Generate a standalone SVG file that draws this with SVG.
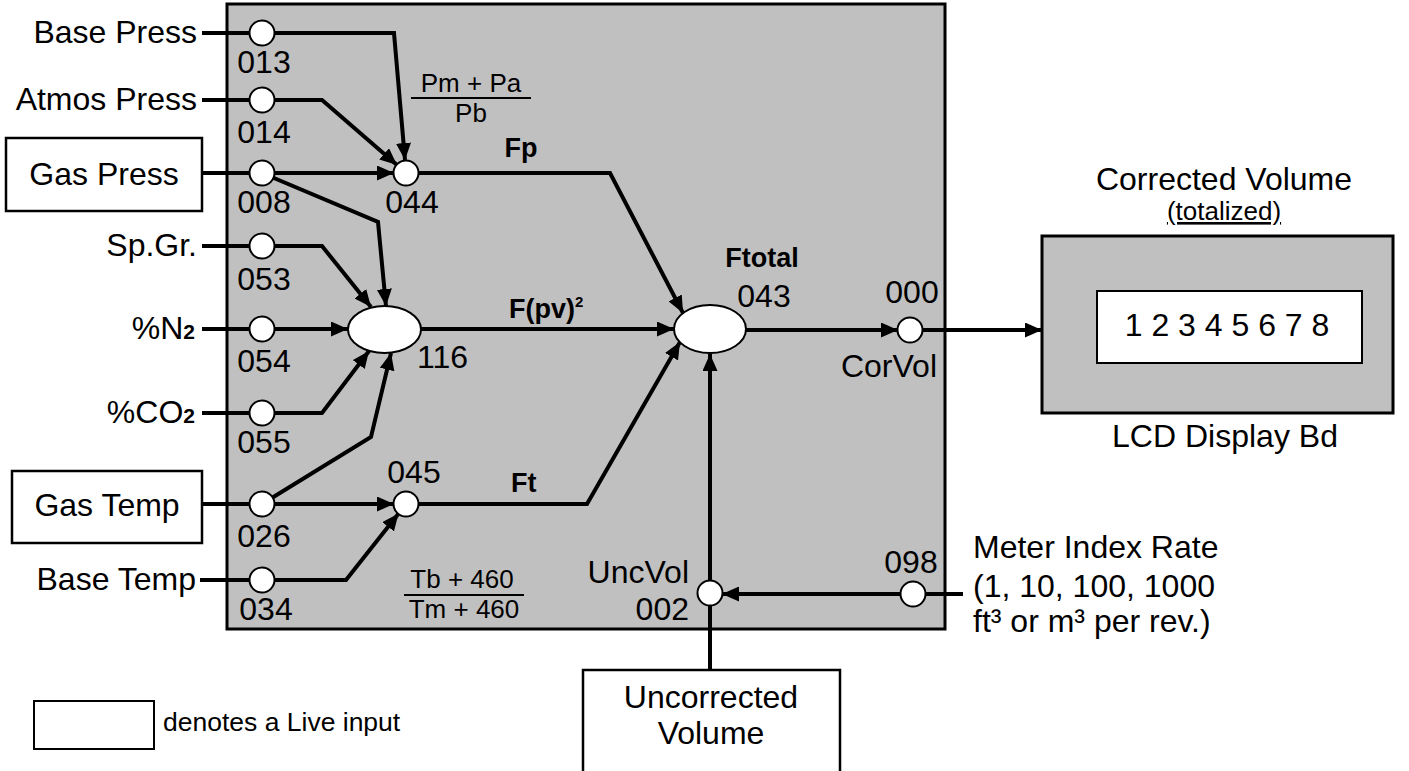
<svg xmlns="http://www.w3.org/2000/svg" width="1409" height="771" viewBox="0 0 1409 771">
<style>
text{font-family:"Liberation Sans",Arial,sans-serif;fill:#000}
.t{font-size:32px}
.b{font-size:27px;font-weight:bold}
.f{font-size:26px}
.s{font-size:26.5px}
.m{text-anchor:middle}
.e{text-anchor:end}
.c{fill:none;stroke:#000;stroke-width:4;stroke-linejoin:miter}
.a{marker-end:url(#ah)}
.pt{fill:#fff;stroke:#000;stroke-width:2}
.live{fill:#fff;stroke:#000;stroke-width:2.5}
.gray{fill:#c0c0c0;stroke:#000;stroke-width:3}
</style>
<defs>
<marker id="ah" markerUnits="userSpaceOnUse" markerWidth="17" markerHeight="15" refX="17" refY="7.5" orient="auto">
<path d="M0,0 L17,7.5 L0,15 Z" fill="#000"/>
</marker>
</defs>
<g id="main-box"><rect class="gray" x="227" y="4" width="718" height="625"/></g>
<g id="lcd-box">
<rect class="gray" x="1042" y="236" width="351" height="177"/>
<rect x="1097" y="291" width="265" height="72" fill="#fff" stroke="#000" stroke-width="2"/>
<text class="t m" x="1227" y="336">1 2 3 4 5 6 7 8</text>
<text class="t m" x="1225" y="447">LCD Display Bd</text>
<text class="t m" x="1224" y="190">Corrected Volume</text>
<text class="m" x="1224" y="220" font-size="26" text-decoration="underline">(totalized)</text>
</g>
<g id="connectors">
<path class="c a" d="M202,33 L394,33 L405,160"/>
<path class="c a" d="M202,100 L322,100 L397,165"/>
<path class="c a" d="M202,173 L394,173"/>
<path class="c a" d="M262,173 L378,222 L386,306"/>
<path class="c a" d="M202,246 L322,246 L371,307"/>
<path class="c a" d="M202,329 L348,329"/>
<path class="c a" d="M202,413 L322,413 L369,351"/>
<path class="c a" d="M262,504 L371,437 L391,353"/>
<path class="c a" d="M202,504 L394,504"/>
<path class="c a" d="M200,580 L346,580 L398.6,513.4"/>
<path class="c a" d="M406,173 L610,173 L683,313"/>
<path class="c a" d="M384,329 L674,329"/>
<path class="c a" d="M406,504 L587,504 L680,342"/>
<path class="c a" d="M710,330 L898,330"/>
<path class="c a" d="M910,330 L1042,330"/>
<path class="c a" d="M710,670 L710,354"/>
<path class="c a" d="M963,594 L722,594"/>
</g>
<g id="base-press"><text class="t e" x="197" y="43">Base Press</text><circle class="pt" cx="262" cy="33" r="12.5"/><text class="t m" x="264" y="73">013</text></g>
<g id="atmos-press"><text class="t e" x="197" y="110">Atmos Press</text><circle class="pt" cx="262" cy="100" r="12.5"/><text class="t m" x="264" y="143">014</text></g>
<g id="gas-press"><rect class="live" x="6" y="138" width="196" height="73"/><text class="t m" x="104" y="185">Gas Press</text><circle class="pt" cx="262" cy="173" r="12.5"/><text class="t m" x="264" y="213">008</text></g>
<g id="sp-gr"><text class="t e" x="197" y="256">Sp.Gr.</text><circle class="pt" cx="262" cy="246" r="12.5"/><text class="t m" x="264" y="290">053</text></g>
<g id="n2"><text class="t e" x="195" y="339">%N<tspan font-size="21" font-weight="bold">2</tspan></text><circle class="pt" cx="262" cy="329" r="12.5"/><text class="t m" x="264" y="372">054</text></g>
<g id="co2"><text class="t e" x="195" y="423">%CO<tspan font-size="21" font-weight="bold">2</tspan></text><circle class="pt" cx="262" cy="413" r="12.5"/><text class="t m" x="264" y="453">055</text></g>
<g id="gas-temp"><rect class="live" x="12" y="471" width="190" height="72"/><text class="t m" x="107" y="516">Gas Temp</text><circle class="pt" cx="262" cy="504" r="12.5"/><text class="t m" x="264" y="547">026</text></g>
<g id="base-temp"><text class="t e" x="196" y="590">Base Temp</text><circle class="pt" cx="262" cy="580" r="12.5"/><text class="t m" x="266" y="620">034</text></g>
<g id="n044"><circle class="pt" cx="406" cy="173" r="12.5"/><text class="t m" x="412" y="213">044</text>
<text class="f m" x="471" y="92">Pm + Pa</text><line x1="411" y1="98" x2="531" y2="98" stroke="#000" stroke-width="2"/><text class="f m" x="471" y="122">Pb</text></g>
<g id="n116"><ellipse class="pt" cx="384.5" cy="329.5" rx="36.5" ry="23.5"/><text class="t" x="417" y="368">116</text></g>
<g id="n045"><circle class="pt" cx="406" cy="504" r="12.5"/><text class="t m" x="414" y="483">045</text>
<text class="f m" x="462" y="588">Tb + 460</text><line x1="404" y1="595" x2="524" y2="595" stroke="#000" stroke-width="2"/><text class="f m" x="464" y="618">Tm + 460</text></g>
<g id="labels"><text class="b m" x="521" y="157">Fp</text><text class="b" x="509" y="318">F(pv)<tspan font-size="15" dy="-11">2</tspan></text><text class="b" x="511" y="492">Ft</text></g>
<g id="n043"><ellipse class="pt" cx="710" cy="329" rx="36" ry="24"/><text class="b m" x="762" y="267">Ftotal</text><text class="t m" x="764" y="307">043</text></g>
<g id="corvol"><circle class="pt" cx="910" cy="330" r="12.5"/><text class="t m" x="912" y="303">000</text><text class="t e" x="937" y="377">CorVol</text></g>
<g id="uncvol"><circle class="pt" cx="710" cy="593" r="12.5"/><text class="t e" x="689" y="583">UncVol</text><text class="t e" x="689" y="620">002</text></g>
<g id="n098"><circle class="pt" cx="913" cy="594" r="12.5"/><text class="t m" x="911" y="573">098</text>
<text class="t" x="973" y="558">Meter Index Rate</text><text class="t" x="973" y="597">(1, 10, 100, 1000</text><text class="t" x="973" y="632">ft³ or m³ per rev.)</text></g>
<g id="uncorrected-volume"><rect class="live" x="583" y="670" width="257" height="110"/><text class="t m" x="711" y="708">Uncorrected</text><text class="t m" x="711" y="744">Volume</text></g>
<g id="legend"><rect x="34" y="701" width="120" height="48" fill="#fff" stroke="#000" stroke-width="2"/><text class="s" x="163" y="731">denotes a Live input</text></g>
</svg>
